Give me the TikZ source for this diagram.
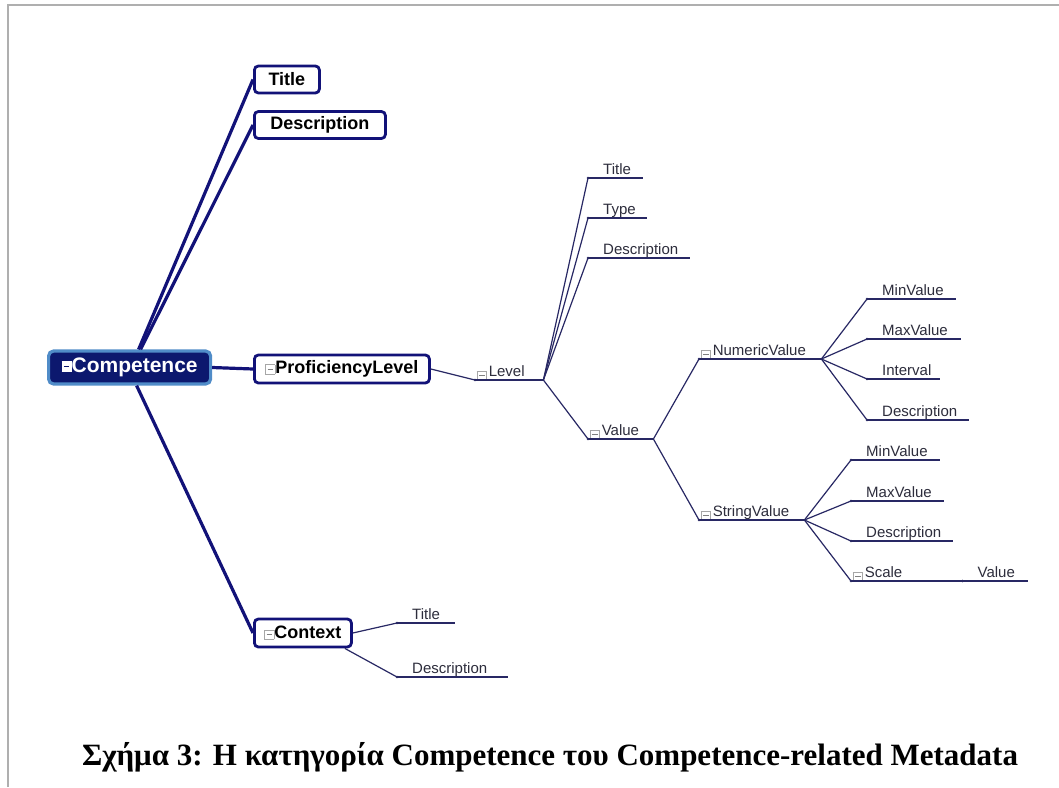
\documentclass[tikz,border=0pt]{standalone}
\usepackage{fontspec}
\setmainfont{Liberation Serif}
\newfontfamily\arialf{Liberation Sans}
\usetikzlibrary{calc}

\definecolor{navy}{RGB}{18,18,120}
\definecolor{thinc}{RGB}{40,40,100}
\definecolor{compfill}{RGB}{12,24,110}
\definecolor{compedge}{RGB}{80,140,200}
\definecolor{labeltext}{RGB}{45,45,60}
\definecolor{framec}{RGB}{175,175,175}

% collapse icon: #1 frame colour, #2 fill colour, #3 bar colour
\newcommand\colicon[3]{{\setlength\fboxsep{0pt}\setlength\fboxrule{0.8pt}%
  \fcolorbox{#1}{#2}{\rule{0pt}{8.5pt}\hbox to 8.5pt{\hss\textcolor{#3}{\rule[3.6pt]{5.5pt}{1.3pt}}\hss}}}}
% leaf label of fixed underline length
\newcommand\itm[2]{\makebox[#1pt][l]{\hspace*{15pt}#2}}
% leaf label with a collapse icon
\newcommand\itmc[2]{\makebox[#1pt][l]{\hspace*{1.5pt}\raisebox{-3.5pt}{\colicon{gray!70}{white}{gray}}\hspace{2pt}#2}}

\begin{document}
\begin{tikzpicture}[x=1pt,y=-1pt,
  box/.style={draw=navy, line width=2.8, rounded corners=4, fill=white,
    font=\arialf\bfseries\fontsize{18}{20}\selectfont, inner sep=0, minimum height=27},
  compbox/.style={draw=compedge, line width=3.2, rounded corners=5, fill=compfill, text=white,
    font=\arialf\bfseries\fontsize{21}{24}\selectfont, inner sep=0},
  leaf/.style={font=\arialf\fontsize{15}{17}\selectfont, text=labeltext, inner sep=0,
    inner ysep=3.5, text height=11, text depth=0, anchor=south west},
  thickl/.style={navy, line width=3.2},
  thinl/.style={thinc, line width=1.2}]
\useasboundingbox (0,0) rectangle (1059,787);
\fill[white] (0,0) rectangle (1059,787);
\draw[framec, line width=1.5] (8,787) -- (8,5) -- (1059,5);

% main topic and first-level boxes
\node[compbox, minimum width=162, minimum height=33, anchor=west] (comp) at (47,367.5)
  {\raisebox{2pt}{\colicon{white}{white}{compfill}}Competence};
\node[box, minimum width=65, anchor=west] (bt) at (253,79.5) {Title};
\node[box, minimum width=131, anchor=west] (bd) at (253,125) {Description};
\node[box, minimum width=175, minimum height=28, anchor=west] (pl) at (253,369)
  {\colicon{gray!70}{white}{gray}ProficiencyLevel};
\node[box, minimum width=97, minimum height=28, anchor=west] (ctx) at (253,633)
  {\colicon{gray!70}{white}{gray}Context};

% thick branches
\draw[thickl] ($(comp.north)+(9,0)$) -- (bt.west);
\draw[thickl] ($(comp.north)+(11,0)$) -- (bd.west);
\draw[thickl] (comp.east) -- (pl.west);
\draw[thickl] ($(comp.south)+(7,0)$) -- (ctx.west);

% leaf labels
\node[leaf] (lvl) at (475,380) {\itmc{68}{Level}};
\node[leaf] (lt) at (588,178) {\itm{55}{Title}};
\node[leaf] (lty) at (588,218) {\itm{59}{Type}};
\node[leaf] (ld) at (588,258) {\itm{102}{Description}};
\node[leaf] (val) at (588,439) {\itmc{65}{Value}};
\node[leaf] (nv) at (699,359) {\itmc{122}{NumericValue}};
\node[leaf] (sv) at (699,520) {\itmc{105}{StringValue}};
\node[leaf] (nmin) at (867,299) {\itm{89}{MinValue}};
\node[leaf] (nmax) at (867,339) {\itm{94}{MaxValue}};
\node[leaf] (nint) at (867,379) {\itm{73}{Interval}};
\node[leaf] (ndesc) at (867,420) {\itm{102}{Description}};
\node[leaf] (smin) at (851,460) {\itm{89}{MinValue}};
\node[leaf] (smax) at (851,501) {\itm{93}{MaxValue}};
\node[leaf] (sdesc) at (851,541) {\itm{102}{Description}};
\node[leaf] (sscale) at (851,581) {\itmc{111}{Scale}};
\node[leaf] (sval) at (sscale.south east) {\itm{65}{Value}};
\node[leaf] (ct) at (397,623) {\itm{58}{Title}};
\node[leaf] (cd) at (397,677) {\itm{111}{Description}};

\foreach \n in {lvl,lt,lty,ld,val,nv,sv,nmin,nmax,nint,ndesc,smin,smax,sdesc,sscale,sval,ct,cd}{
  \draw[thinl] (\n.south west) -- (\n.south east);
  \fill[thinc] (\n.south west) circle (1.4);
}

% thin branches
\draw[thinl] (pl.east) -- (lvl.south west);
\foreach \n in {lt,lty,ld,val}{ \draw[thinl] (lvl.south east) -- (\n.south west); }
\foreach \n in {nv,sv}{ \draw[thinl] (val.south east) -- (\n.south west); }
\foreach \n in {nmin,nmax,nint,ndesc}{ \draw[thinl] (nv.south east) -- (\n.south west); }
\foreach \n in {smin,smax,sdesc,sscale}{ \draw[thinl] (sv.south east) -- (\n.south west); }
\draw[thinl] (ctx.east) -- (ct.south west);
\draw[thinl] ($(ctx.south east)+(-8,0)$) -- (cd.south west);

% caption
\node[font=\bfseries\fontsize{31}{36}\selectfont, anchor=base, inner sep=0] (cap) at (550,765)
  {Σχήμα 3: Η κατηγορία Competence του Competence-related Metadata};
\end{tikzpicture}
\end{document}
